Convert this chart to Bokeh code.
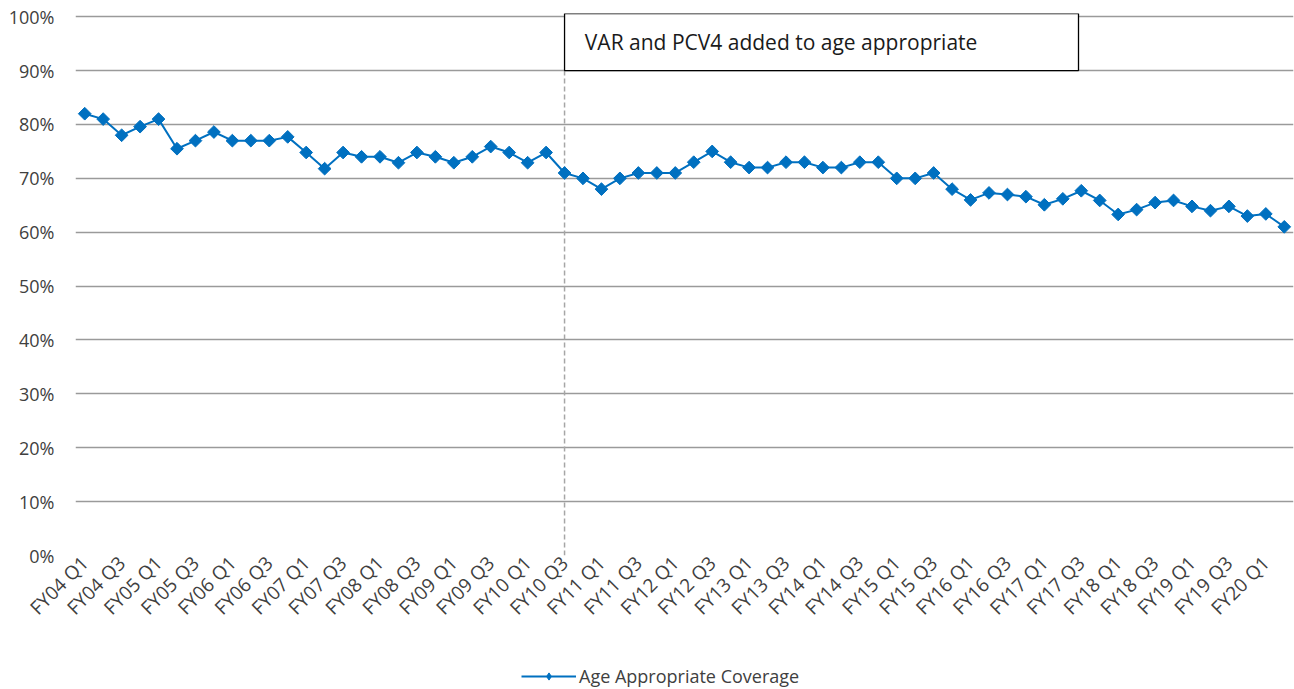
from bokeh.plotting import figure
from bokeh.layouts import column
from bokeh.models import (Range1d, FixedTicker, NumeralTickFormatter, BoxAnnotation,
                          Label, Legend, LegendItem, ColumnDataSource)
from bokeh.embed import file_html
from bokeh.resources import INLINE
import math

quarters = [
    "FY04 Q1", "FY04 Q2", "FY04 Q3", "FY04 Q4",
    "FY05 Q1", "FY05 Q2", "FY05 Q3", "FY05 Q4",
    "FY06 Q1", "FY06 Q2", "FY06 Q3", "FY06 Q4",
    "FY07 Q1", "FY07 Q2", "FY07 Q3", "FY07 Q4",
    "FY08 Q1", "FY08 Q2", "FY08 Q3", "FY08 Q4",
    "FY09 Q1", "FY09 Q2", "FY09 Q3", "FY09 Q4",
    "FY10 Q1", "FY10 Q2", "FY10 Q3", "FY10 Q4",
    "FY11 Q1", "FY11 Q2", "FY11 Q3", "FY11 Q4",
    "FY12 Q1", "FY12 Q2", "FY12 Q3", "FY12 Q4",
    "FY13 Q1", "FY13 Q2", "FY13 Q3", "FY13 Q4",
    "FY14 Q1", "FY14 Q2", "FY14 Q3", "FY14 Q4",
    "FY15 Q1", "FY15 Q2", "FY15 Q3", "FY15 Q4",
    "FY16 Q1", "FY16 Q2", "FY16 Q3", "FY16 Q4",
    "FY17 Q1", "FY17 Q2", "FY17 Q3", "FY17 Q4",
    "FY18 Q1", "FY18 Q2", "FY18 Q3", "FY18 Q4",
    "FY19 Q1", "FY19 Q2", "FY19 Q3", "FY19 Q4",
    "FY20 Q1", "FY20 Q2",
]

coverage = [
    82, 81, 78, 79.6,
    81, 75.5, 77, 78.6,
    77, 77, 77, 77.7,
    74.8, 71.8, 74.8, 74,
    74, 72.9, 74.8, 74,
    72.9, 74, 75.9, 74.8,
    72.9, 74.8, 71, 70,
    68, 70, 71, 71,
    71, 73, 75, 73,
    72, 72, 73, 73,
    72, 72, 73, 73,
    70, 70, 71, 68,
    66, 67.3, 67, 66.6,
    65.1, 66.2, 67.7, 65.9,
    63.3, 64.2, 65.5, 65.9,
    64.8, 64, 64.8, 63,
    63.4, 61,
]

series_name = "Age Appropriate Coverage"
annotation_text = "VAR and PCV4 added to age appropriate"
event_quarter = "FY10 Q3"
y_ticks = [0, 0.1, 0.2, 0.3, 0.4, 0.5, 0.6, 0.7, 0.8, 0.9, 1.0]

FONT = "Open Sans"
TEXT_COLOR = "#404040"
LINE_COLOR = "#0070C0"

x = list(range(len(quarters)))
src = ColumnDataSource(dict(x=x, y=[v / 100 for v in coverage], q=quarters))
event_idx = quarters.index(event_quarter)

p = figure(width=1294, height=655, output_backend="svg", toolbar_location=None,
           x_range=Range1d(-0.5, len(quarters) - 0.5), y_range=Range1d(0, 1.006),
           min_border_left=75, min_border_right=1, min_border_top=13, min_border_bottom=100)
p.outline_line_color = None
p.background_fill_color = "white"
p.border_fill_color = "white"

# axes
p.xaxis.ticker = FixedTicker(ticks=x[::2])
p.xaxis.major_label_overrides = {i: quarters[i] for i in x[::2]}
p.xaxis.major_label_orientation = math.pi / 4
p.yaxis.ticker = FixedTicker(ticks=y_ticks)
p.yaxis.formatter = NumeralTickFormatter(format="0%")
for ax in (p.xaxis, p.yaxis):
    ax.axis_line_color = None
    ax.major_tick_line_color = None
    ax.minor_tick_line_color = None
    ax.major_tick_out = 0
    ax.major_tick_in = 0
    ax.minor_tick_out = 0
    ax.major_label_text_font = FONT
    ax.major_label_text_color = TEXT_COLOR
p.yaxis.major_label_text_font_size = "18px"
p.xaxis.major_label_text_font_size = "19px"
p.yaxis.major_label_standoff = 21
p.xaxis.major_label_standoff = 4

p.xgrid.grid_line_color = None
p.ygrid.ticker = FixedTicker(ticks=y_ticks)
p.ygrid.grid_line_color = "#9a9a9a"
p.ygrid.grid_line_width = 1.4

# event marker
p.segment(x0=[event_idx], y0=[0], x1=[event_idx], y1=[0.9],
          line_color="#a6a6a6", line_width=1.5, line_dash="5 3")

line_r = p.line("x", "y", source=src, line_color=LINE_COLOR, line_width=2)
pts_r = p.scatter("x", "y", source=src, marker="square", angle=math.pi / 4, size=9,
                  fill_color=LINE_COLOR, line_color=LINE_COLOR)

box = BoxAnnotation(left=event_idx, right=53.85, bottom=0.9, top=1.006,
                    fill_color="white", fill_alpha=1.0,
                    line_color="black", line_width=1.3, line_alpha=1.0)
p.add_layout(box)
lab = Label(x=event_idx + 1.1, y=0.953, text=annotation_text,
            text_font=FONT, text_font_size="21px", text_color="#1a1a1a",
            text_baseline="middle", text_align="left")
p.add_layout(lab)

# legend strip below the chart (same series, drawn outside this strip's view)
lg = figure(width=1294, height=34, output_backend="svg", toolbar_location=None,
            x_range=Range1d(-0.5, len(quarters) - 0.5), y_range=Range1d(5, 6),
            x_axis_location=None, y_axis_location=None,
            min_border_left=0, min_border_right=0, min_border_top=0, min_border_bottom=0)
lg.outline_line_color = None
lg.xgrid.grid_line_color = None
lg.ygrid.grid_line_color = None
lg_line = lg.line("x", "y", source=src, line_color=LINE_COLOR, line_width=2)
lg_pts = lg.scatter("x", "y", source=src, marker="diamond", size=11,
                    fill_color=LINE_COLOR, line_color=LINE_COLOR)
legend = Legend(items=[LegendItem(label=series_name, renderers=[lg_line, lg_pts])],
                location=(446, 1), orientation="horizontal",
                border_line_color=None, background_fill_alpha=0,
                label_text_font=FONT, label_text_font_size="18px",
                label_text_color=TEXT_COLOR, glyph_width=55, glyph_height=18,
                label_standoff=3, padding=2, margin=0)
lg.add_layout(legend, "center")

layout = column(p, lg, spacing=0)
open("out.html", "w").write(file_html(layout, INLINE))
